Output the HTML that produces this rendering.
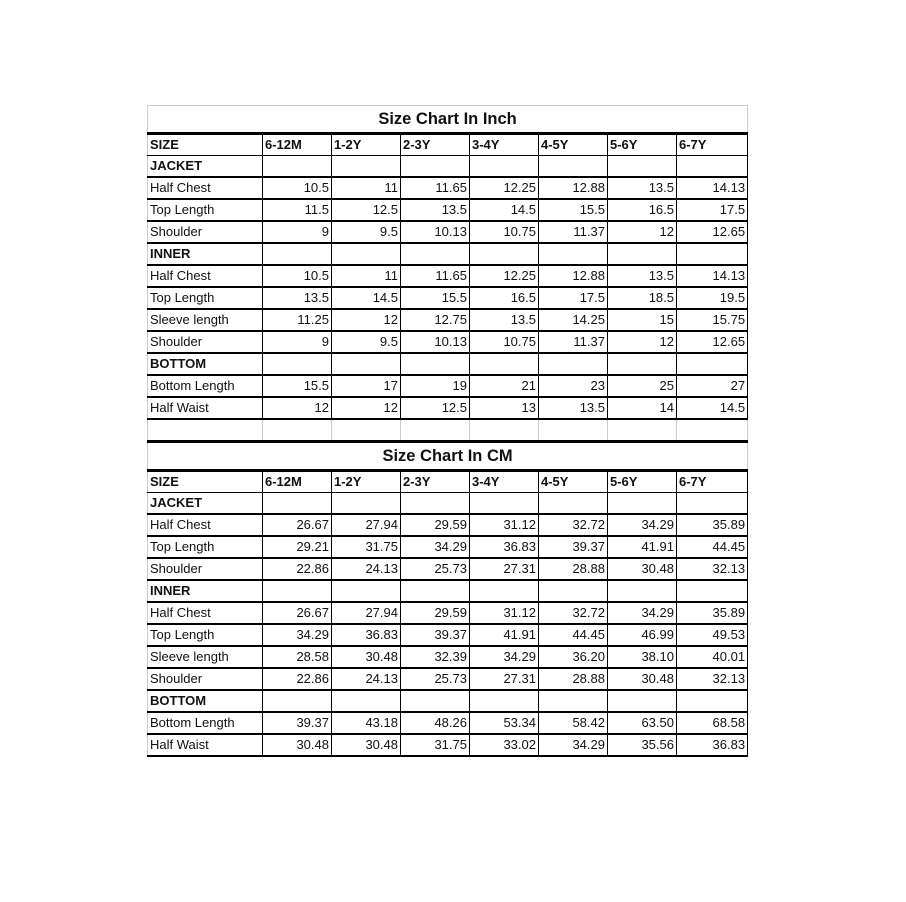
<!DOCTYPE html>
<html><head><meta charset="utf-8"><style>
html,body{margin:0;padding:0;background:#fff;width:906px;height:902px;overflow:hidden}
table{position:absolute;left:147px;top:105px;border-collapse:collapse;table-layout:fixed;width:600px;font-family:"Liberation Sans",sans-serif;font-size:13px;color:#111}
td{height:20px;padding:0 2px;border-bottom:2px solid #000;border-left:1px solid #000;border-right:1px solid #000;white-space:nowrap;overflow:hidden;line-height:20px}
td:first-child{border-left:1px solid #ccc}
td.n{text-align:right}
tr.t td{height:26px;border-bottom:3px solid #000;text-align:center;font-weight:bold;font-size:16.5px;border-right:1px solid #ccc}
tr.t1 td{border-top:1px solid #ccc}
tr.b td{font-weight:bold}
tr.h td{font-weight:bold;border-bottom:1px solid #000}
tr.h td:first-child{}
tr.e td{border-left:1px solid #ccc;border-right:1px solid #ccc;border-bottom:3px solid #000}
</style></head><body>
<table>
<colgroup><col style="width:115px"><col style="width:69px"><col style="width:69px"><col style="width:69px"><col style="width:69px"><col style="width:69px"><col style="width:69px"><col style="width:71px"></colgroup>
<tr class="t t1"><td colspan="8">Size Chart In Inch</td></tr>
<tr class="h"><td>SIZE</td><td>6-12M</td><td>1-2Y</td><td>2-3Y</td><td>3-4Y</td><td>4-5Y</td><td>5-6Y</td><td>6-7Y</td></tr>
<tr class="b"><td>JACKET</td><td></td><td></td><td></td><td></td><td></td><td></td><td></td></tr>
<tr><td>Half Chest</td><td class="n">10.5</td><td class="n">11</td><td class="n">11.65</td><td class="n">12.25</td><td class="n">12.88</td><td class="n">13.5</td><td class="n">14.13</td></tr>
<tr><td>Top Length</td><td class="n">11.5</td><td class="n">12.5</td><td class="n">13.5</td><td class="n">14.5</td><td class="n">15.5</td><td class="n">16.5</td><td class="n">17.5</td></tr>
<tr><td>Shoulder</td><td class="n">9</td><td class="n">9.5</td><td class="n">10.13</td><td class="n">10.75</td><td class="n">11.37</td><td class="n">12</td><td class="n">12.65</td></tr>
<tr class="b"><td>INNER</td><td></td><td></td><td></td><td></td><td></td><td></td><td></td></tr>
<tr><td>Half Chest</td><td class="n">10.5</td><td class="n">11</td><td class="n">11.65</td><td class="n">12.25</td><td class="n">12.88</td><td class="n">13.5</td><td class="n">14.13</td></tr>
<tr><td>Top Length</td><td class="n">13.5</td><td class="n">14.5</td><td class="n">15.5</td><td class="n">16.5</td><td class="n">17.5</td><td class="n">18.5</td><td class="n">19.5</td></tr>
<tr><td>Sleeve length</td><td class="n">11.25</td><td class="n">12</td><td class="n">12.75</td><td class="n">13.5</td><td class="n">14.25</td><td class="n">15</td><td class="n">15.75</td></tr>
<tr><td>Shoulder</td><td class="n">9</td><td class="n">9.5</td><td class="n">10.13</td><td class="n">10.75</td><td class="n">11.37</td><td class="n">12</td><td class="n">12.65</td></tr>
<tr class="b"><td>BOTTOM</td><td></td><td></td><td></td><td></td><td></td><td></td><td></td></tr>
<tr><td>Bottom Length</td><td class="n">15.5</td><td class="n">17</td><td class="n">19</td><td class="n">21</td><td class="n">23</td><td class="n">25</td><td class="n">27</td></tr>
<tr><td>Half Waist</td><td class="n">12</td><td class="n">12</td><td class="n">12.5</td><td class="n">13</td><td class="n">13.5</td><td class="n">14</td><td class="n">14.5</td></tr>
<tr class="e"><td></td><td></td><td></td><td></td><td></td><td></td><td></td><td></td></tr>
<tr class="t"><td colspan="8">Size Chart In CM</td></tr>
<tr class="h"><td>SIZE</td><td>6-12M</td><td>1-2Y</td><td>2-3Y</td><td>3-4Y</td><td>4-5Y</td><td>5-6Y</td><td>6-7Y</td></tr>
<tr class="b"><td>JACKET</td><td></td><td></td><td></td><td></td><td></td><td></td><td></td></tr>
<tr><td>Half Chest</td><td class="n">26.67</td><td class="n">27.94</td><td class="n">29.59</td><td class="n">31.12</td><td class="n">32.72</td><td class="n">34.29</td><td class="n">35.89</td></tr>
<tr><td>Top Length</td><td class="n">29.21</td><td class="n">31.75</td><td class="n">34.29</td><td class="n">36.83</td><td class="n">39.37</td><td class="n">41.91</td><td class="n">44.45</td></tr>
<tr><td>Shoulder</td><td class="n">22.86</td><td class="n">24.13</td><td class="n">25.73</td><td class="n">27.31</td><td class="n">28.88</td><td class="n">30.48</td><td class="n">32.13</td></tr>
<tr class="b"><td>INNER</td><td></td><td></td><td></td><td></td><td></td><td></td><td></td></tr>
<tr><td>Half Chest</td><td class="n">26.67</td><td class="n">27.94</td><td class="n">29.59</td><td class="n">31.12</td><td class="n">32.72</td><td class="n">34.29</td><td class="n">35.89</td></tr>
<tr><td>Top Length</td><td class="n">34.29</td><td class="n">36.83</td><td class="n">39.37</td><td class="n">41.91</td><td class="n">44.45</td><td class="n">46.99</td><td class="n">49.53</td></tr>
<tr><td>Sleeve length</td><td class="n">28.58</td><td class="n">30.48</td><td class="n">32.39</td><td class="n">34.29</td><td class="n">36.20</td><td class="n">38.10</td><td class="n">40.01</td></tr>
<tr><td>Shoulder</td><td class="n">22.86</td><td class="n">24.13</td><td class="n">25.73</td><td class="n">27.31</td><td class="n">28.88</td><td class="n">30.48</td><td class="n">32.13</td></tr>
<tr class="b"><td>BOTTOM</td><td></td><td></td><td></td><td></td><td></td><td></td><td></td></tr>
<tr><td>Bottom Length</td><td class="n">39.37</td><td class="n">43.18</td><td class="n">48.26</td><td class="n">53.34</td><td class="n">58.42</td><td class="n">63.50</td><td class="n">68.58</td></tr>
<tr><td>Half Waist</td><td class="n">30.48</td><td class="n">30.48</td><td class="n">31.75</td><td class="n">33.02</td><td class="n">34.29</td><td class="n">35.56</td><td class="n">36.83</td></tr>
</table>
</body></html>
